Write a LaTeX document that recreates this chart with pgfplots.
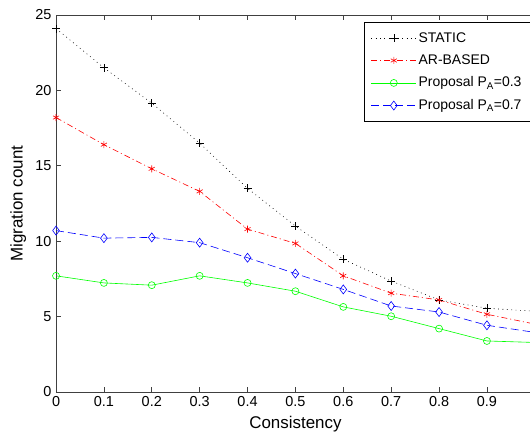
\documentclass[border=0pt]{standalone}
\usepackage{fontspec}
\setmainfont{Liberation Sans}
\usepackage{pgfplots}
\pgfplotsset{compat=1.18}
\begin{document}
\fontsize{13.5}{15}\selectfont
\begin{tikzpicture}
\begin{axis}[
  scale only axis, width=478.5bp, height=376.7bp,
  xmin=0, xmax=1, ymin=0, ymax=25,
  xtick={0,0.1,0.2,0.3,0.4,0.5,0.6,0.7,0.8,0.9},
  xticklabels={0,0.1,0.2,0.3,0.4,0.5,0.6,0.7,0.8,0.9},
  ytick={0,5,10,15,20,25},
  tick align=inside, major tick length=5bp,
  axis line style={black!75, line width=0.7bp},
  tick style={black!75, line width=0.7bp},
  /pgf/number format/assume math mode=true,
  tick label style={font=\fontsize{14.5}{16}\selectfont},
  xlabel={Consistency}, ylabel={Migration count},
  label style={font=\fontsize{17}{19}\selectfont},
  legend cell align=left,
  legend style={at={(1,1)}, anchor=north east, xshift=-4bp, yshift=-7bp,
    draw=black, line width=0.7bp, font=\fontsize{14}{16}\selectfont,
    inner xsep=7bp, inner ysep=8bp, row sep=6.5bp,
    nodes={inner xsep=2bp}},
  every axis plot/.append style={
    legend image code/.code={\draw[mark repeat=2,mark phase=2,#1]
      plot coordinates {(0bp,0bp) (22.5bp,0bp) (45bp,0bp)};}},
]
\addplot[black, line width=0.6bp, dash pattern=on 0.8bp off 3.6bp,
  mark=+, mark size=4bp, mark options={solid}] coordinates {
  (0,24.1)(0.1,21.5)(0.2,19.15)(0.3,16.5)(0.4,13.5)(0.5,11.0)
  (0.6,8.8)(0.7,7.35)(0.8,6.1)(0.9,5.55)(1.0,5.35)
};
\addlegendentry{STATIC}
\addplot[red, line width=0.6bp, dash pattern=on 6bp off 3bp on 1bp off 3bp,
  mark=asterisk, mark size=3.5bp, mark options={solid}] coordinates {
  (0,18.2)(0.1,16.4)(0.2,14.8)(0.3,13.3)(0.4,10.8)(0.5,9.85)
  (0.6,7.7)(0.7,6.55)(0.8,6.1)(0.9,5.15)(1.0,4.5)
};
\addlegendentry{AR-BASED}
\addplot[green, line width=0.6bp, solid,
  mark=o, mark size=3.5bp] coordinates {
  (0,7.7)(0.1,7.23)(0.2,7.08)(0.3,7.7)(0.4,7.23)(0.5,6.68)
  (0.6,5.64)(0.7,5.02)(0.8,4.2)(0.9,3.38)(1.0,3.28)
};
\addlegendentry{Proposal P\textsubscript{A}=0.3}
\addplot[blue, line width=0.6bp, dash pattern=on 8bp off 4bp,
  mark=diamond, mark size=4.5bp, mark options={solid}] coordinates {
  (0,10.7)(0.1,10.2)(0.2,10.25)(0.3,9.9)(0.4,8.9)(0.5,7.85)
  (0.6,6.8)(0.7,5.7)(0.8,5.3)(0.9,4.42)(1.0,3.95)
};
\addlegendentry{Proposal P\textsubscript{A}=0.7}
\end{axis}
\pgfresetboundingbox
\path[use as bounding box] ([xshift=-56bp,yshift=-45.3bp]current axis.south west)
  rectangle ([xshift=-4.8bp,yshift=15bp]current axis.north east);
\end{tikzpicture}
\end{document}
